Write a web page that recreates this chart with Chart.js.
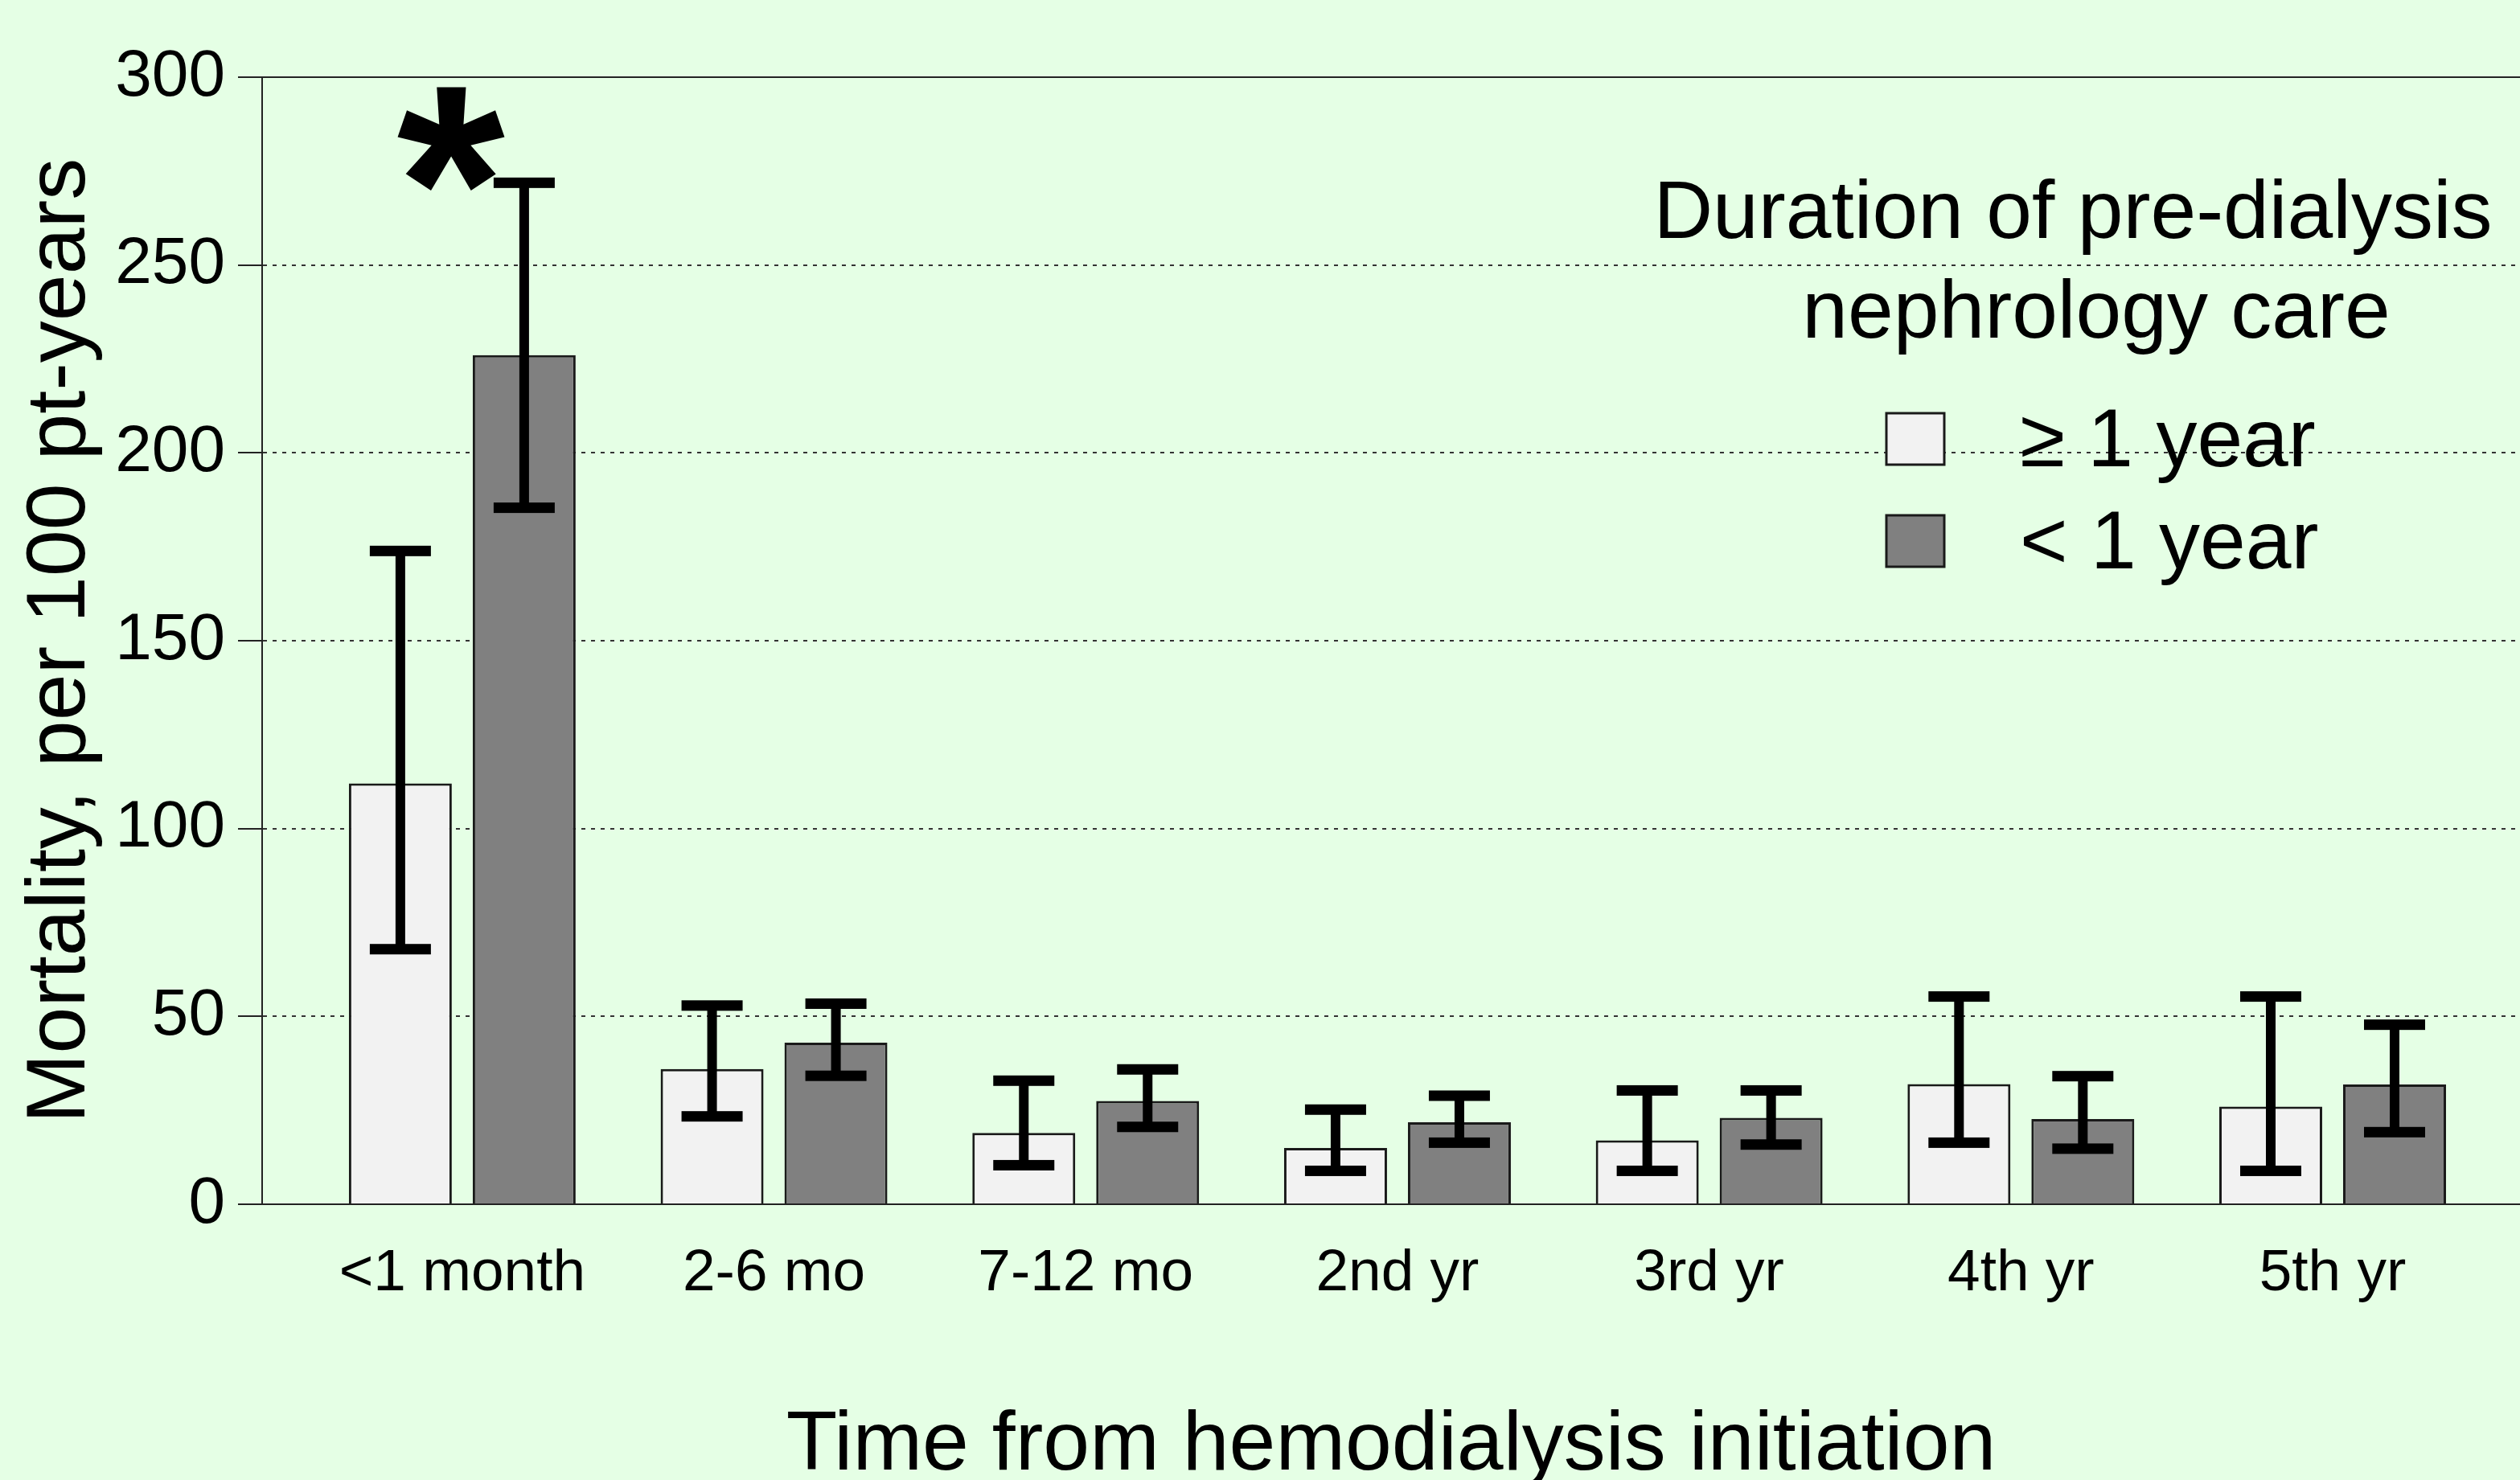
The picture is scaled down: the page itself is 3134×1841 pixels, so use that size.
<!DOCTYPE html>
<html>
<head>
<meta charset="utf-8">
<script src="https://cdn.jsdelivr.net/npm/chart.js@4.4.1/dist/chart.umd.min.js"></script>
<style>
  html, body { margin: 0; padding: 0; background: #e5ffe5; overflow: hidden; }
  canvas { display: block; }
</style>
</head>
<body>
<canvas id="mortalityChart" width="3134" height="1841"></canvas>
<script>
const categories = ['<1 month', '2-6 mo', '7-12 mo', '2nd yr', '3rd yr', '4th yr', '5th yr'];
const seriesLabels = ['\u2265 1 year', '< 1 year'];
const legendTitle = ['Duration of pre-dialysis', 'nephrology care'];

// mortality per 100 pt-years, with CI ends
const longCare = [112, 36, 19, 15, 17, 32, 26];
const longLow = [68, 23.5, 10.5, 9, 9, 16.5, 9];
const longHigh = [174, 53, 33, 25.3, 30.4, 55.4, 55.4];
const shortCare = [226, 43, 27.5, 21.8, 23, 22.7, 31.9];
const shortLow = [185.5, 34.3, 20.7, 16.5, 16, 14.9, 19.3];
const shortHigh = [272, 53.5, 36, 29, 30.4, 34.2, 47.9];

const yTicks = [0, 50, 100, 150, 200, 250, 300];
const asterisk = { x: -0.036, y: 284 }; // significance mark over the first month

const FONT = "'Liberation Sans', Arial, sans-serif";
const BG = '#e5ffe5';

const ctx = document.getElementById('mortalityChart').getContext('2d');

const background = {
  id: 'background',
  beforeDraw(chart) {
    const c = chart.ctx;
    c.save();
    c.fillStyle = BG;
    c.fillRect(0, 0, chart.width, chart.height);
    c.restore();
  }
};

const errorBars = {
  id: 'errorBars',
  afterDatasetsDraw(chart) {
    const c = chart.ctx;
    const y = chart.scales.y;
    const lows = [longLow, shortLow];
    const highs = [longHigh, shortHigh];
    c.save();
    c.fillStyle = '#000';
    chart.data.datasets.forEach((ds, di) => {
      chart.getDatasetMeta(di).data.forEach((bar, i) => {
        const top = y.getPixelForValue(highs[di][i]);
        const bot = y.getPixelForValue(lows[di][i]);
        c.fillRect(bar.x - 6, top, 12, bot - top);
        c.fillRect(bar.x - 38, top - 6, 76, 13);
        c.fillRect(bar.x - 38, bot - 6, 76, 13);
      });
    });

    // asterisk, centred on its data point
    c.font = 'bold 345px ' + FONT;
    c.textAlign = 'left';
    c.textBaseline = 'alphabetic';
    const m = c.measureText('*');
    const ax = chart.scales.x.getPixelForValue(asterisk.x);
    const ay = y.getPixelForValue(asterisk.y);
    c.fillText('*', ax - (m.actualBoundingBoxRight - m.actualBoundingBoxLeft) / 2,
      ay + (m.actualBoundingBoxAscent - m.actualBoundingBoxDescent) / 2);
    c.restore();
  }
};

const legendBox = {
  id: 'legendBox',
  afterDraw(chart) {
    const c = chart.ctx;
    c.save();
    c.font = '102px ' + FONT;
    c.fillStyle = '#000';
    c.textBaseline = 'middle';
    c.textAlign = 'center';
    c.fillText(legendTitle[0], 2578, 268);
    c.fillText(legendTitle[1], 2607, 392);
    c.textAlign = 'left';
    chart.data.datasets.forEach((ds, i) => {
      const cy = 546 + i * 127;
      c.fillStyle = ds.backgroundColor;
      c.fillRect(2346, cy - 32, 72, 64);
      c.strokeStyle = '#1a1a1a';
      c.lineWidth = 3;
      c.strokeRect(2346, cy - 32, 72, 64);
      c.fillStyle = '#000';
      c.fillText(ds.label, 2512, cy + 6);
    });
    c.restore();
  }
};

const config = {
  type: 'bar',
  data: {
    datasets: [{
      label: seriesLabels[0],
      data: longCare.map((v, i) => ({ x: i, y: v })),
      backgroundColor: '#f2f2f2',
      borderColor: '#1a1a1a',
      borderWidth: 3,
      categoryPercentage: 0.7945,
      barPercentage: 0.831
    }, {
      label: seriesLabels[1],
      data: shortCare.map((v, i) => ({ x: i, y: v })),
      backgroundColor: '#808080',
      borderColor: '#1a1a1a',
      borderWidth: 3,
      categoryPercentage: 0.7945,
      barPercentage: 0.831
    }]
  },
  options: {
    responsive: false,
    animation: false,
    layout: { padding: { top: 96, left: 0, right: 0, bottom: 0 } },
    plugins: {
      legend: { display: false },
      tooltip: { enabled: false }
    },
    scales: {
      x: {
        type: 'linear',
        position: 'bottom',
        offset: false,
        min: -0.642,
        max: 6.601,
        afterBuildTicks: a => { a.ticks = categories.map((c, i) => ({ value: i })); },
        afterFit: a => { a.height = 343; },
        ticks: {
          callback: v => categories[v],
          font: { family: FONT, size: 73 },
          color: '#000',
          padding: 35,
          maxRotation: 0,
          autoSkip: false
        },
        grid: { display: false, offset: false },
        border: { display: true, color: '#222', width: 2, z: 1 },
        title: {
          display: true,
          text: 'Time from hemodialysis initiation',
          font: { family: FONT, size: 104, lineHeight: 0.8 },
          color: '#000',
          padding: 0
        }
      },
      xTop: {
        type: 'linear',
        position: 'top',
        offset: false,
        afterFit: a => { a.height = 0; },
        ticks: { display: false },
        grid: { display: false, drawTicks: false },
        border: { display: true, color: '#222', width: 2, z: 1 }
      },
      y: {
        min: 0,
        max: 300,
        afterBuildTicks: a => { a.ticks = yTicks.map(v => ({ value: v })); },
        afterFit: a => { a.width = 326; },
        ticks: { font: { family: FONT, size: 82 }, color: '#000', padding: 16 },
        grid: { color: '#333', lineWidth: 2, tickLength: 30, tickColor: '#222', tickWidth: 2, tickBorderDash: [] },
        border: { display: true, color: '#222', width: 2, dash: [5, 7], z: 1 },
        title: {
          display: true,
          text: 'Mortality, per 100 pt-years',
          font: { family: FONT, size: 104, lineHeight: 1 },
          color: '#000',
          padding: { top: 24, bottom: 0 }
        }
      }
    }
  },
  plugins: [background, errorBars, legendBox]
};

const mortalityChart = new Chart(ctx, config);
</script>
</body>
</html>
